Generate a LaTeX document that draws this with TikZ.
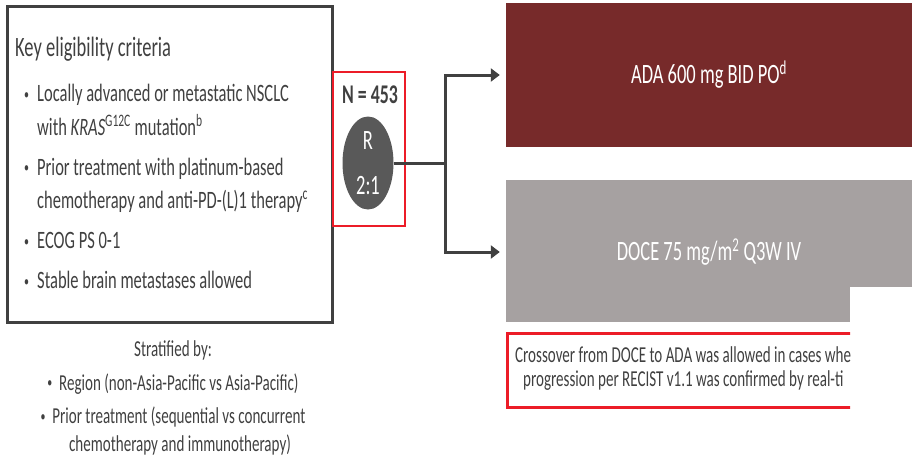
\documentclass[tikz,border=0pt]{standalone}
\usepackage{fontspec}
\setmainfont{Carlito}[FakeStretch=0.66]
\usetikzlibrary{arrows.meta,positioning,shapes.geometric}
\definecolor{adared}{HTML}{772A2A}
\definecolor{docegray}{HTML}{A6A1A1}
\definecolor{randgray}{HTML}{595959}
\definecolor{inkgray}{HTML}{404040}
\definecolor{boxred}{HTML}{EC1C28}
\newcommand\dotmark{\raisebox{2.5pt}{\fontsize{15}{15}\selectfont•}}

\begin{document}
\begin{tikzpicture}[x=1pt,y=-1pt,
  every node/.style={inner sep=0pt,text=inkgray},
  frame/.style={draw=inkgray,line width=3pt},
  redframe/.style={draw=boxred,line width=2.5pt},
  armbox/.style={minimum width=406pt,minimum height=144pt},
  armtext/.style={text=white,font=\fontsize{28}{33}\selectfont},
  link/.style={draw=inkgray,line width=3pt},
  arr/.style={link,-{Triangle[length=9pt,width=13pt]}}]
\useasboundingbox (0,0) rectangle (912,463);

% eligibility
\node[frame,minimum width=325pt,minimum height=316pt] (crit) at (169.5,164) {};
\node[anchor=base west,font=\fontsize{28}{33}\selectfont] (title) at (15,56) {Key eligibility criteria};
\node[anchor=north west,align=left,font=\fontsize{25}{33.5}\selectfont] (items) at (24,84)
  {\makebox[13pt][l]{\dotmark}Locally advanced or metastatic NSCLC\\
   \hspace*{13pt}with \textit{KRAS}\textsuperscript{G12C} mutation\textsuperscript{b}\\[6.5pt]
   \makebox[13pt][l]{\dotmark}Prior treatment with platinum-based\\
   \hspace*{13pt}chemotherapy and anti-PD-(L)1 therapy\textsuperscript{c}\\[6.5pt]
   \makebox[13pt][l]{\dotmark}ECOG PS 0-1\\[6.5pt]
   \makebox[13pt][l]{\dotmark}Stable brain metastases allowed};
\node[anchor=north,align=center,font=\fontsize{22.8}{28}\selectfont] (strat) at (173,340)
  {Stratified by:\\[6pt]
   \dotmark\ \ Region (non-Asia-Pacific vs Asia-Pacific)\\[5.5pt]
   \dotmark\ \ Prior treatment (sequential vs concurrent\\
   \hspace*{14pt}chemotherapy and immunotherapy)};

% randomisation
\node[redframe,minimum width=72pt,minimum height=154pt] (nbox) at (369,149) {};
\node[anchor=base,font=\bfseries\fontsize{27}{30}\selectfont] (ntot) at (370,103) {N = 453};
\node[ellipse,fill=randgray,minimum width=51pt,minimum height=93pt,
  text=white,align=center,font=\fontsize{28}{45}\selectfont] (rand) at (368,163) {R\\2:1};

% arms
\node[armbox,fill=adared,armtext] (ada) at (709,75) {ADA 600 mg BID PO\textsuperscript{d}};
\fill[docegray] (506,180) rectangle (912,287);
\fill[docegray] (506,287) rectangle (850,322);
\node[armbox,armtext] (doce) at (709,252) {DOCE 75 mg/m\textsuperscript{2} Q3W IV};

\coordinate (fork) at ([xshift=52pt]rand.east);
\draw[link] (rand.east) -- (fork);
\draw[arr] (fork) |- ([xshift=-6pt]ada.west);
\draw[arr] (fork) |- ([xshift=-6pt]doce.west);

% crossover
\begin{scope}
\clip (495,325) rectangle (850,415);
\draw[redframe,line width=3pt] (860,333) -- (507,333) -- (507,407) -- (860,407);
\node[anchor=west,font=\fontsize{22.8}{27}\selectfont] (cross1) at (515,355)
  {Crossover from DOCE to ADA was allowed in cases whe};
\node[anchor=west,font=\fontsize{22.8}{27}\selectfont] (cross2) at (523,381)
  {progression per RECIST v1.1 was confirmed by real-ti};
\end{scope}
\end{tikzpicture}
\end{document}
